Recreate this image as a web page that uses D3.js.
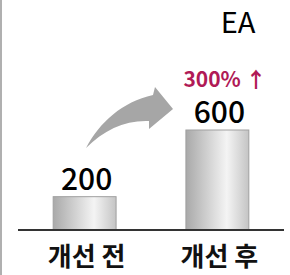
<html>
<head>
<meta charset="utf-8">
<script src="https://d3js.org/d3.v7.min.js"></script>
<style>
  body { margin: 0; background: #fff; }
  text { font-family: "Noto Sans CJK KR", "Noto Sans", sans-serif; }
</style>
</head>
<body>
<div id="chart"></div>
<script>
// data
const categories = ['개선 전', '개선 후'];
const values = [200, 600];
const unitLabel = 'EA';
const changeLabel = '300% ↑';

// constants
const W = 290, H = 275;
const baseY = 230;

const svg = d3.select('#chart').append('svg')
  .attr('width', W)
  .attr('height', H);

const x = d3.scaleBand().domain(categories).range([20, 282]).paddingInner(0.526).paddingOuter(0.25);
const y = d3.scaleLinear().domain([0, 600]).range([baseY, 130]);

// gradient for the bars
const grad = svg.append('defs').append('linearGradient')
  .attr('id', 'barGrad')
  .attr('x1', '0%').attr('x2', '100%').attr('y1', '0%').attr('y2', '0%');
grad.append('stop').attr('offset', '0%').attr('stop-color', '#a9a9a9');
grad.append('stop').attr('offset', '65%').attr('stop-color', '#f4f4f4');
grad.append('stop').attr('offset', '100%').attr('stop-color', '#c4c4c4');

// left border
svg.append('line')
  .attr('x1', 1).attr('x2', 1).attr('y1', 0).attr('y2', H)
  .style('stroke', '#b0b0b0').style('stroke-width', 2);

// bars
svg.selectAll('.bar').data(values).enter().append('rect')
  .attr('class', 'bar')
  .attr('x', (d, i) => x(categories[i]))
  .attr('y', d => y(d))
  .attr('width', x.bandwidth())
  .attr('height', d => baseY - y(d))
  .style('fill', 'url(#barGrad)')
  .style('stroke', '#a0a0a0')
  .style('stroke-width', 1);

// baseline
svg.append('line')
  .attr('x1', 18).attr('x2', 284).attr('y1', baseY).attr('y2', baseY)
  .style('stroke', '#333').style('stroke-width', 2);

// value labels
svg.selectAll('.val').data(values).enter().append('text')
  .attr('class', 'val')
  .attr('x', (d, i) => x(categories[i]) + x.bandwidth() / 2 + 2)
  .attr('y', d => y(d) - 7)
  .attr('text-anchor', 'middle')
  .style('font-size', '30px')
  .style('font-weight', 500)
  .style('fill', '#000')
  .text(d => d);

// category labels
svg.selectAll('.cat').data(categories).enter().append('text')
  .attr('class', 'cat')
  .attr('x', d => x(d) + x.bandwidth() / 2 + 2)
  .attr('y', 266)
  .attr('text-anchor', 'middle')
  .style('font-size', '26px')
  .style('font-weight', 'bold')
  .style('fill', '#111')
  .text(d => d);

// unit
svg.append('text')
  .attr('x', 238).attr('y', 33)
  .attr('text-anchor', 'middle')
  .style('font-size', '29px')
  .text(unitLabel);

// change label
svg.append('text')
  .attr('x', 225).attr('y', 87)
  .attr('text-anchor', 'middle')
  .style('font-size', '21px')
  .style('font-weight', 'bold')
  .style('fill', '#b01a56')
  .text(changeLabel);

// curved arrow
const arrow = d3.path();
arrow.moveTo(86, 148);
arrow.bezierCurveTo(100, 122, 122, 102, 153, 95);
arrow.lineTo(155, 87);
arrow.lineTo(173, 109);
arrow.lineTo(149, 129);
arrow.lineTo(149, 121);
arrow.bezierCurveTo(125, 120, 104, 130, 86, 148);
arrow.closePath();
svg.append('path')
  .attr('d', arrow.toString())
  .style('fill', '#a6a6a6');
</script>
</body>
</html>
